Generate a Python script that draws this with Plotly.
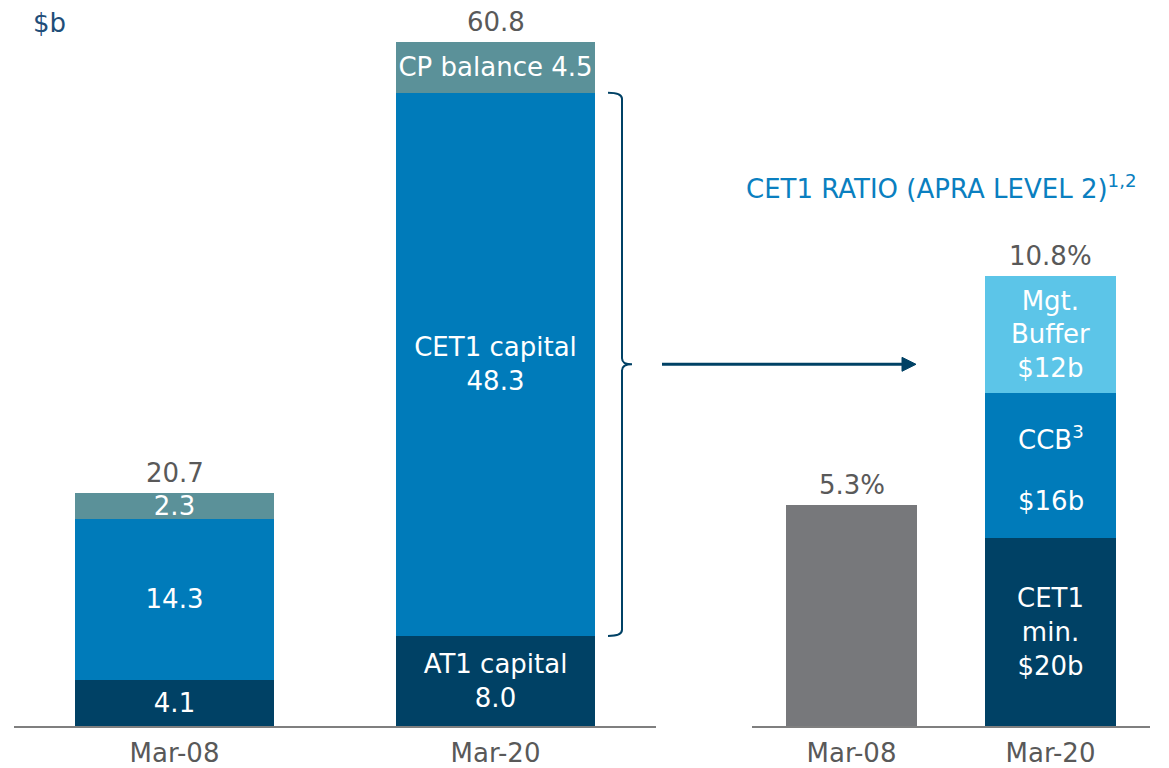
import plotly.graph_objects as go

# ---------------- data ----------------
periods = ["Mar-08", "Mar-20"]

# Left panel: capital composition ($b)
at1_capital = [4.1, 8.0]
cet1_capital = [14.3, 48.3]
cp_balance = [2.3, 4.5]
at1_text = ["4.1", "AT1 capital<br>8.0"]
cet1_text = ["14.3", "CET1 capital<br>48.3"]
cp_text = ["2.3", "CP balance 4.5"]

# Right panel: CET1 ratio (%)
ratio_2008 = [5.3]
cet1_min = [4.5]
ccb = [3.5]
mgt_buffer = [2.8]
cet1_min_text = ["CET1<br>min.<br>$20b"]
ccb_label = "CCB<sup>3</sup>"
ccb_amount = "$16b"
mgt_text = ["Mgt.<br>Buffer<br>$12b"]

# ---------------- style ----------------
FONT = "DejaVu Sans, Verdana, sans-serif"
NAVY = "#004165"
BLUE = "#007bba"
TEAL = "#5b9199"
LIGHT = "#5cc5e8"
GREY_BAR = "#77787b"
LABEL = "#595959"
W, H = 1169, 768
OFF = 8  # page body margin
ML, MR, MT, MB = 6, 27, 22, 50
PW = W - ML - MR
PH = H - MT - MB

def px_to_paper(px):
    return (px - OFF - ML) / PW

def py_to_paper(py):
    return (H - MB - (py - OFF)) / PH

FS = 26

fig = go.Figure()

def stack_bar(x, y, text, color, width, xa, ya):
    if text is not None:
        kw = dict(text=text, texttemplate="%{text}",
                  textposition="inside", insidetextanchor="middle", textangle=0,
                  constraintext="none",
                  textfont=dict(color="white", size=FS, family=FONT))
    else:
        kw = dict(textposition="none")
    fig.add_trace(go.Bar(
        x=x, y=y, marker=dict(color=color, line=dict(width=0)),
        width=width, xaxis=xa, yaxis=ya, showlegend=False, hoverinfo="skip", **kw))

stack_bar(periods, at1_capital, at1_text, NAVY, 0.62, "x", "y")
stack_bar(periods, cet1_capital, cet1_text, BLUE, 0.62, "x", "y")
stack_bar(periods, cp_balance, cp_text, TEAL, 0.62, "x", "y")

stack_bar(["Mar-08"], ratio_2008, None, GREY_BAR, 0.66, "x2", "y2")
stack_bar(["Mar-20"], cet1_min, cet1_min_text, NAVY, 0.66, "x2", "y2")
stack_bar(["Mar-20"], ccb, None, BLUE, 0.66, "x2", "y2")
stack_bar(["Mar-20"], mgt_buffer, mgt_text, LIGHT, 0.66, "x2", "y2")

annotations = []
# CCB segment labels (two separated lines)
annotations.append(dict(x="Mar-20", y=cet1_min[0] + ccb[0] * 0.69, xref="x2", yref="y2",
                        text=ccb_label, showarrow=False, yanchor="middle",
                        font=dict(color="white", size=FS, family=FONT)))
annotations.append(dict(x="Mar-20", y=cet1_min[0] + ccb[0] * 0.26, xref="x2", yref="y2",
                        text=ccb_amount, showarrow=False, yanchor="middle",
                        font=dict(color="white", size=FS, family=FONT)))

# totals, left
for i, p in enumerate(periods):
    tot = at1_capital[i] + cet1_capital[i] + cp_balance[i]
    annotations.append(dict(x=p, y=tot, xref="x", yref="y", text=f"{tot:.1f}",
                            showarrow=False, yanchor="bottom", yshift=3,
                            font=dict(color=LABEL, size=FS, family=FONT)))
# totals, right
tot08 = ratio_2008[0]
tot20 = cet1_min[0] + ccb[0] + mgt_buffer[0]
annotations.append(dict(x="Mar-08", y=tot08, xref="x2", yref="y2", text=f"{tot08:.1f}%",
                        showarrow=False, yanchor="bottom", yshift=3,
                        font=dict(color=LABEL, size=FS, family=FONT)))
annotations.append(dict(x="Mar-20", y=tot20, xref="x2", yref="y2", text=f"{tot20:.1f}%",
                        showarrow=False, yanchor="bottom", yshift=3,
                        font=dict(color=LABEL, size=FS, family=FONT)))

# unit label
annotations.append(dict(x=px_to_paper(31), y=py_to_paper(23), xref="paper", yref="paper",
                        xanchor="left", yanchor="middle", text="$b",
                        showarrow=False, font=dict(color="#1f4e79", size=FS, family=FONT)))
# right title
annotations.append(dict(x=px_to_paper(744), y=py_to_paper(187), xref="paper", yref="paper",
                        xanchor="left", yanchor="middle",
                        text="CET1 RATIO (APRA LEVEL 2)<sup>1,2</sup>",
                        showarrow=False, font=dict(color="#0a7fc0", size=FS, family=FONT)))

# brace + arrow
ybot = at1_capital[1]
ytop = at1_capital[1] + cet1_capital[1]
ymid = (ybot + ytop) / 2
d = 0.55
x0, x1, x2 = px_to_paper(608), px_to_paper(622), px_to_paper(632)
path = (f"M {x0},{ytop} Q {x1},{ytop} {x1},{ytop-d} L {x1},{ymid+d} "
        f"Q {x1},{ymid} {x2},{ymid} Q {x1},{ymid} {x1},{ymid-d} "
        f"L {x1},{ybot+d} Q {x1},{ybot} {x0},{ybot}")
dy = 0.62  # half arrowhead height in left-axis units
head = (f"M {px_to_paper(902)},{ymid+dy} L {px_to_paper(916)},{ymid} "
        f"L {px_to_paper(902)},{ymid-dy} Z")
shapes = [
    dict(type="path", path=path, xref="paper", yref="y",
         line=dict(color=NAVY, width=2)),
    dict(type="line", x0=px_to_paper(662), x1=px_to_paper(905), y0=ymid, y1=ymid,
         xref="paper", yref="y", line=dict(color=NAVY, width=3)),
    dict(type="path", path=head, xref="paper", yref="y",
         fillcolor=NAVY, line=dict(color=NAVY, width=1)),
]

axis_common = dict(type="category", range=[-0.5, 1.5], showline=True,
                   linecolor="#7f7f7f", linewidth=2, ticks="", showgrid=False,
                   zeroline=False, tickfont=dict(color=LABEL, size=FS, family=FONT),
                   ticklabelstandoff=3, automargin=False, fixedrange=True)

fig.update_layout(
    width=W, height=H,
    margin=dict(l=ML, r=MR, t=MT, b=MB, autoexpand=False),
    paper_bgcolor="white", plot_bgcolor="white",
    barmode="stack", showlegend=False,
    font=dict(family=FONT),
    xaxis=dict(domain=[0, px_to_paper(656)], anchor="y", **axis_common),
    yaxis=dict(range=[0, PH / 11.25], visible=False, domain=[0, 1], automargin=False),
    xaxis2=dict(domain=[px_to_paper(752), 1], anchor="y2", **axis_common),
    yaxis2=dict(range=[0, PH / 41.67], visible=False, domain=[0, 1], anchor="x2",
                automargin=False),
    annotations=annotations, shapes=shapes,
)

fig.write_html("out.html")
